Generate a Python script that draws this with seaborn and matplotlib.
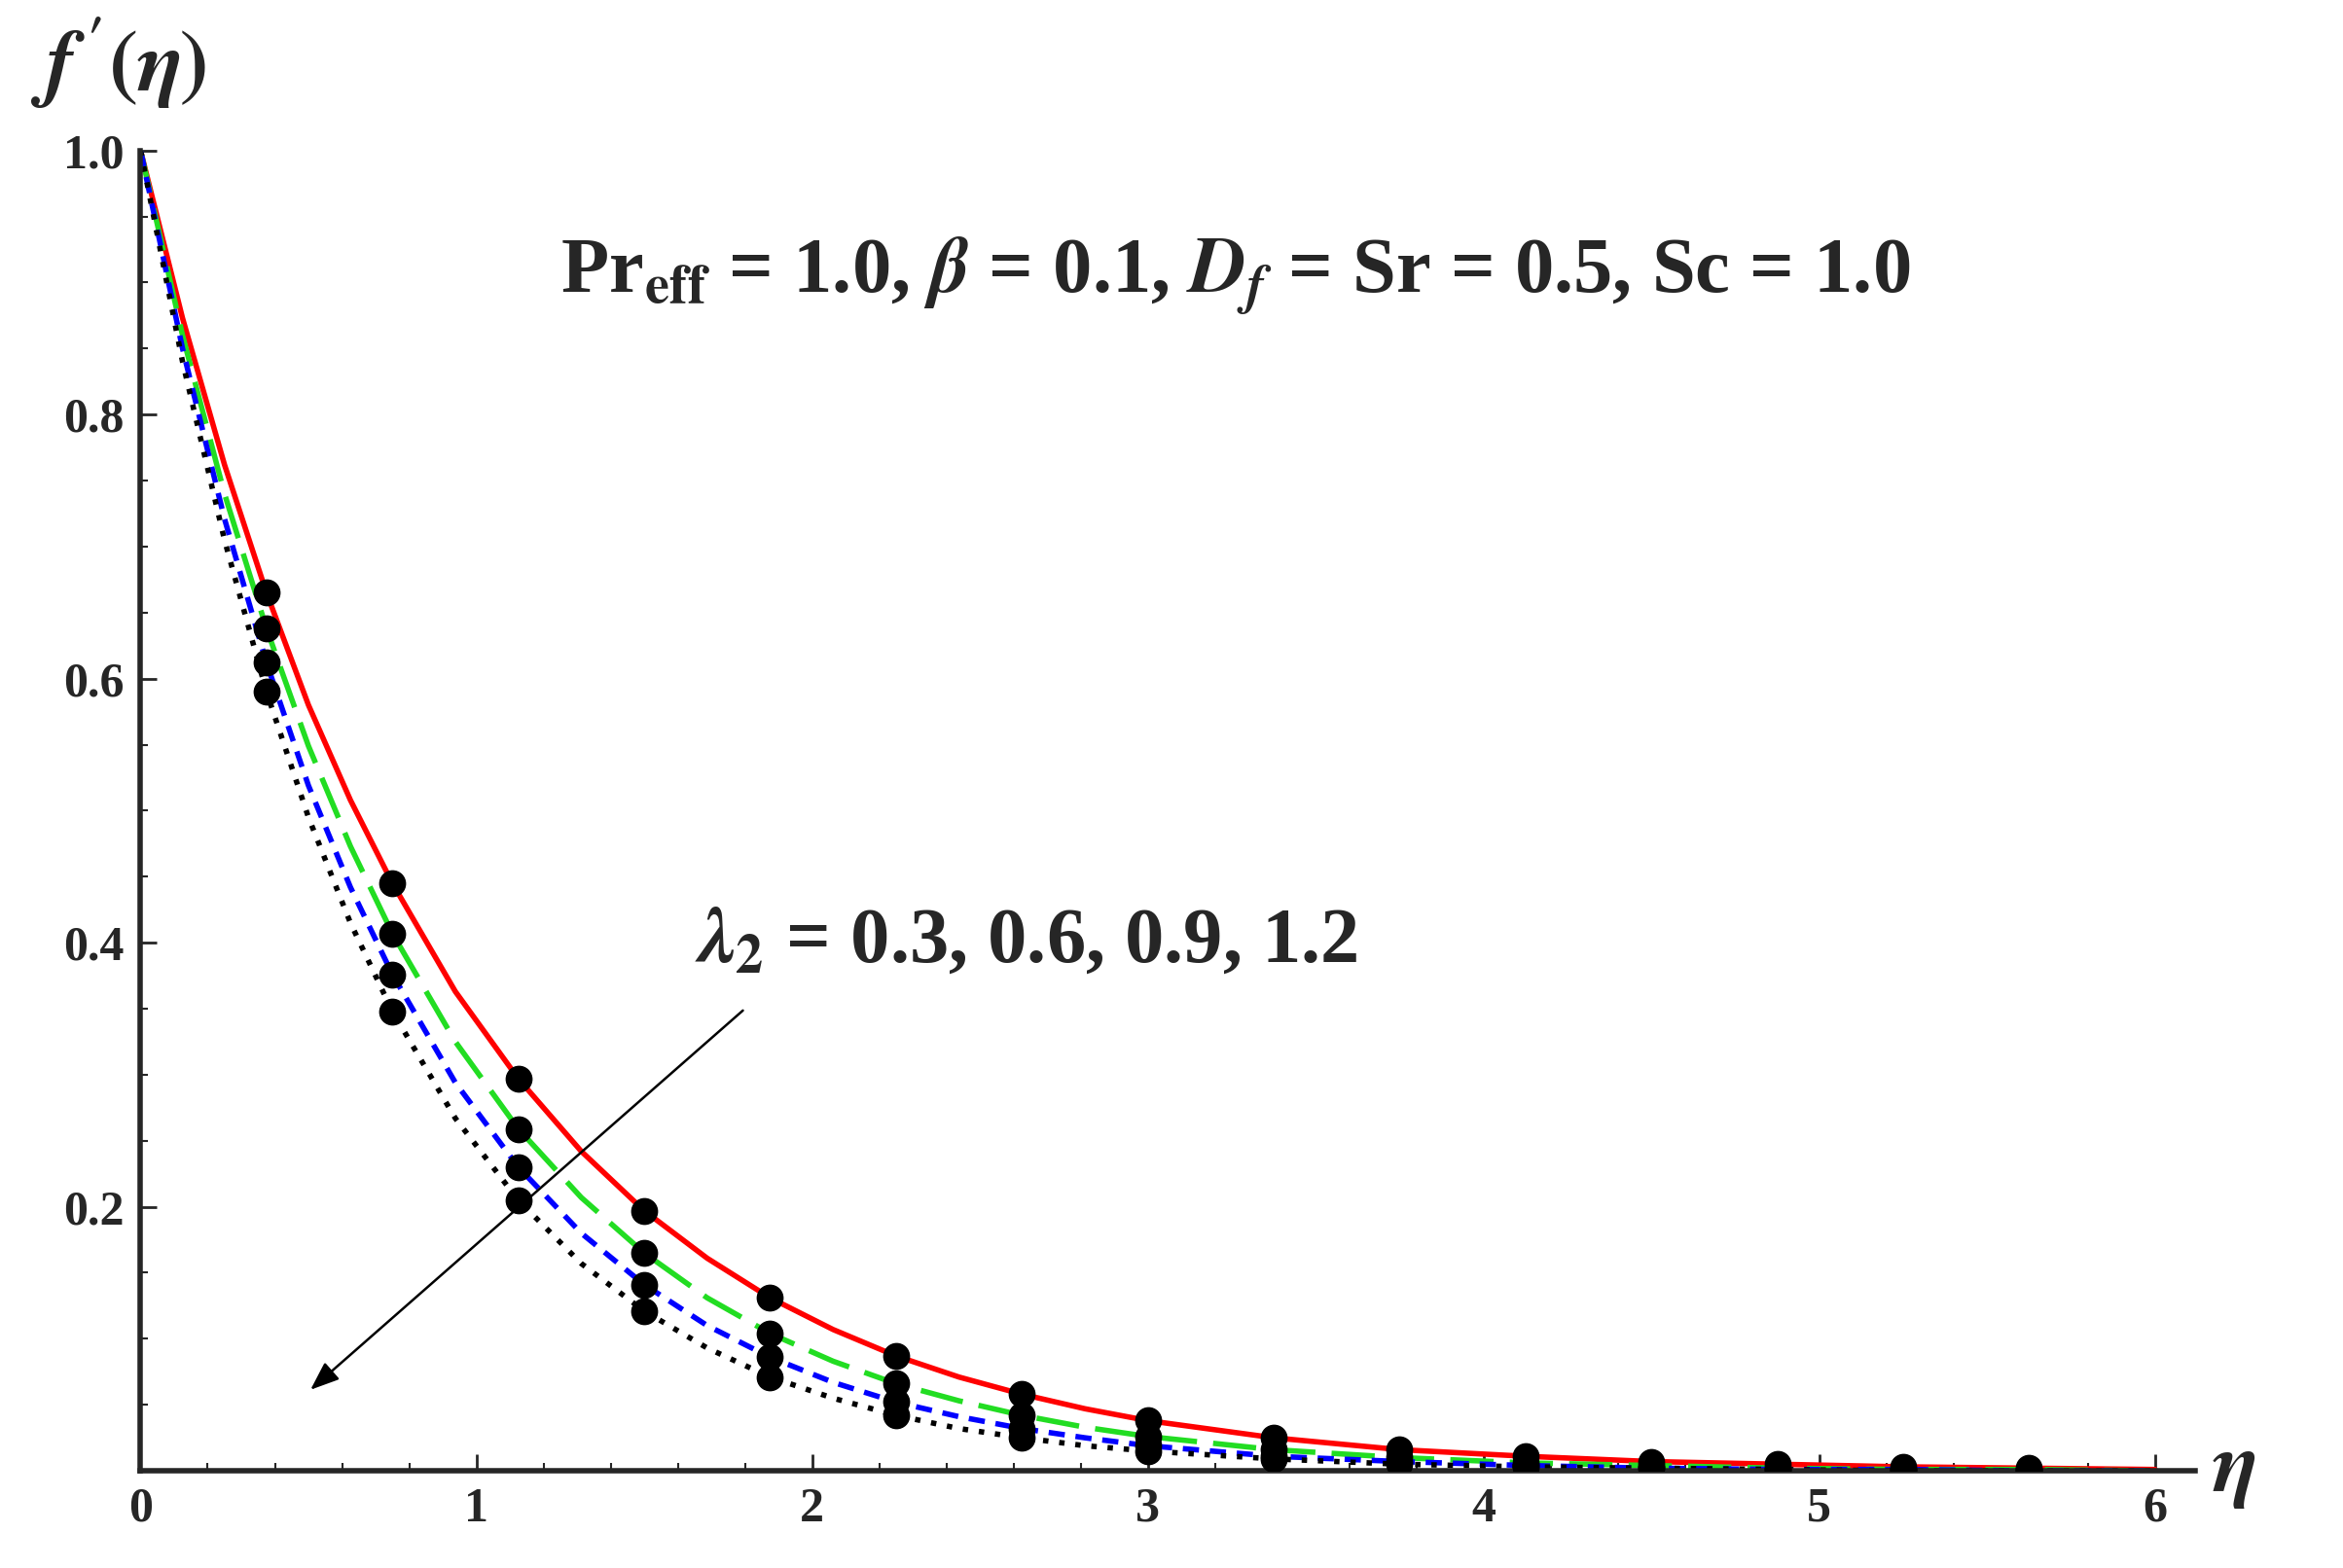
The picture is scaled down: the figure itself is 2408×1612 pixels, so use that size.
import numpy as np
import matplotlib
matplotlib.use("Agg")
import matplotlib.pyplot as plt
import seaborn as sns
import pandas as pd

sns.set_style("ticks")
plt.rcParams['font.family'] = ['Liberation Serif', 'DejaVu Serif']
plt.rcParams['font.weight'] = 'bold'
plt.rcParams['mathtext.fontset'] = 'stix'

eta_line = [0, 0.125, 0.25, 0.375, 0.5, 0.625, 0.75, 0.9375, 1.125, 1.3125, 1.5, 1.6875, 1.875, 2.0625, 2.25, 2.4375, 2.625, 2.8125, 3.0, 3.375, 3.75, 4.125, 4.5, 4.875, 5.25, 5.625, 6.0]
red   = [1.0, 0.873, 0.762, 0.665, 0.580, 0.508, 0.445, 0.363, 0.297, 0.242, 0.197, 0.161, 0.131, 0.107, 0.087, 0.071, 0.058, 0.047, 0.038, 0.025, 0.016, 0.011, 0.007, 0.005, 0.003, 0.002, 0.001]
green = [1.0, 0.860, 0.740, 0.638, 0.549, 0.473, 0.407, 0.325, 0.259, 0.207, 0.165, 0.131, 0.104, 0.083, 0.066, 0.053, 0.042, 0.033, 0.026, 0.016, 0.010, 0.006, 0.004, 0.002, 0.001, 0.001, 0.0]
blue  = [1.0, 0.850, 0.721, 0.612, 0.519, 0.442, 0.376, 0.294, 0.230, 0.180, 0.141, 0.110, 0.086, 0.067, 0.052, 0.041, 0.032, 0.025, 0.019, 0.011, 0.007, 0.004, 0.002, 0.001, 0.001, 0.0, 0.0]
black = [1.0, 0.840, 0.705, 0.590, 0.495, 0.415, 0.348, 0.267, 0.205, 0.157, 0.121, 0.093, 0.071, 0.055, 0.042, 0.032, 0.025, 0.019, 0.015, 0.009, 0.005, 0.003, 0.002, 0.001, 0.0, 0.0, 0.0]

fig = plt.figure(figsize=(24.08, 16.12), dpi=100)
ax = fig.add_axes([0.06, 0.062, 0.877, 0.842])

styles = [(red, 'red', '-'), (green, '#22dd22', (0, (8, 3))), (blue, 'blue', (0, (3, 2))), (black, 'black', (0, (1, 2)))]
for vals, c, ls in styles:
    df = pd.DataFrame({'eta': eta_line, 'f': vals})
    sns.lineplot(data=df, x='eta', y='f', color=c, linestyle=ls, linewidth=4, ax=ax)
    k = np.round(df.eta / 0.375, 6)
    pts = df[(df.eta >= 0.375) & (df.eta <= 5.7) & (k == np.round(k))]
    ax.scatter(pts.eta, pts.f, s=360, color='black', zorder=5)

ax.set_xlim(0, 6.12)
ax.set_ylim(0, 1.0)
ax.set_xticks([0, 1, 2, 3, 4, 5, 6])
ax.set_yticks([0.2, 0.4, 0.6, 0.8, 1.0])
ax.set_yticklabels(['0.2', '0.4', '0.6', '0.8', '1.0'])
ax.set_xticks(np.arange(0, 6.01, 0.2), minor=True)
ax.set_yticks(np.arange(0, 1.0, 0.05), minor=True)
ax.tick_params(direction='in', which='major', length=12, width=2, labelsize=36, pad=12)
ax.tick_params(direction='in', which='minor', length=6, width=1.5)
for t in ax.get_xticklabels() + ax.get_yticklabels():
    t.set_fontweight('bold')
sns.despine(ax=ax)
for s in ['left', 'bottom']:
    ax.spines[s].set_linewidth(4)
ax.set_xlabel('')
ax.set_ylabel('')
ax.text(6.17, 0.0, r'$\eta$', fontsize=64, va='center', ha='left')
ax.text(-0.33, 1.03, r"$f\,'(\eta)$", fontsize=64, va='bottom', ha='left')
ax.text(1.25, 0.905, r'Pr$_{\mathbf{eff}}$ = 1.0, $\beta$ = 0.1, $D_f$ = Sr = 0.5, Sc = 1.0',
        fontsize=58, fontweight='bold', va='center')
ax.text(1.65, 0.40, r'$\lambda_2$ = 0.3, 0.6, 0.9, 1.2', fontsize=58, fontweight='bold', va='center')
ax.annotate('', xy=(0.5, 0.06), xytext=(1.8, 0.35),
            arrowprops=dict(arrowstyle='-|>,head_length=1.8,head_width=0.7', color='black', lw=1.8))
fig.savefig('out.png', dpi=100)
